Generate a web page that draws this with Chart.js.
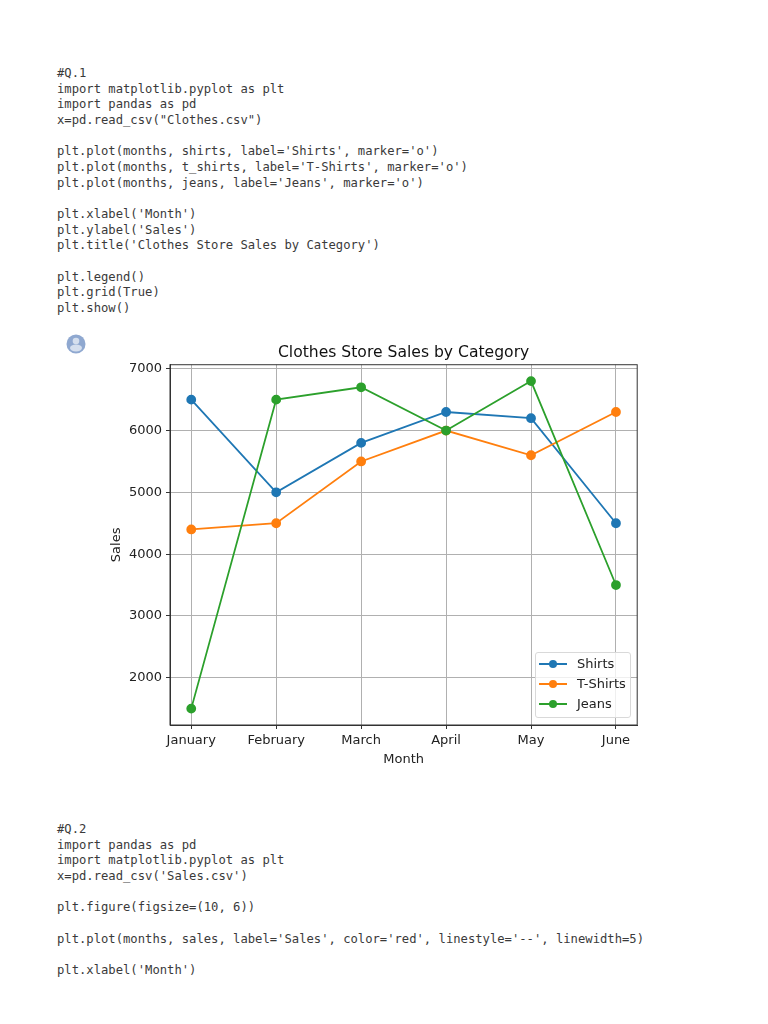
<!DOCTYPE html>
<html>
<head>
<meta charset="utf-8">
<script src="https://cdn.jsdelivr.net/npm/chart.js@4"></script>
<style>
  html, body { margin: 0; padding: 0; background: #fff; }
  body { position: relative; width: 768px; height: 1024px; overflow: hidden; }
  pre {
    position: absolute; left: 57px; margin: 0;
    font: 12.2px/15.65px "DejaVu Sans Mono", monospace;
    color: #3a3a3a;
  }
  #code1 { top: 66px; }
  #code2 { top: 822px; }
  #chartBox { position: absolute; left: 100px; top: 335px; width: 543px; height: 440px; }
  #avatar { position: absolute; left: 66px; top: 334px; }
  #legend {
    position: absolute; left: 535px; top: 652px; width: 94px; height: 64px;
    background: rgba(255,255,255,0.8); border: 1px solid #d9d9d9; border-radius: 3px;
    font: 13px "DejaVu Sans", sans-serif; color: #222;
  }
  .row { position: absolute; left: 0; height: 20px; width: 94px; }
  .row i { position: absolute; left: 3px; top: 9px; width: 28px; height: 2px; }
  .row b { position: absolute; left: 13px; top: 6px; width: 8px; height: 8px; border-radius: 50%; }
  .row span { position: absolute; left: 41px; top: 2px; }
</style>
</head>
<body>
<pre id="code1"></pre>
<svg id="avatar" width="20" height="20" viewBox="0 0 20 20">
  <circle cx="10" cy="10" r="9.5" fill="#8fa8d0"/>
  <circle cx="10" cy="7" r="3.3" fill="#d5dfee"/>
  <ellipse cx="10" cy="14" rx="6" ry="3.4" fill="#d5dfee"/>
</svg>
<div id="chartBox"><canvas id="myChart" width="543" height="440"></canvas></div>
<div id="legend"></div>
<pre id="code2"></pre>

<script>
const codeTop = [
  "#Q.1",
  "import matplotlib.pyplot as plt",
  "import pandas as pd",
  'x=pd.read_csv("Clothes.csv")',
  "",
  "plt.plot(months, shirts, label='Shirts', marker='o')",
  "plt.plot(months, t_shirts, label='T-Shirts', marker='o')",
  "plt.plot(months, jeans, label='Jeans', marker='o')",
  "",
  "plt.xlabel('Month')",
  "plt.ylabel('Sales')",
  "plt.title('Clothes Store Sales by Category')",
  "",
  "plt.legend()",
  "plt.grid(True)",
  "plt.show()"
];
const codeBottom = [
  "#Q.2",
  "import pandas as pd",
  "import matplotlib.pyplot as plt",
  "x=pd.read_csv('Sales.csv')",
  "",
  "plt.figure(figsize=(10, 6))",
  "",
  "plt.plot(months, sales, label='Sales', color='red', linestyle='--', linewidth=5)",
  "",
  "plt.xlabel('Month')"
];

const months = ["January", "February", "March", "April", "May", "June"];
const shirts = [6500, 5000, 5800, 6300, 6200, 4500];
const tShirts = [4400, 4500, 5500, 6000, 5600, 6300];
const jeans = [1500, 6500, 6700, 6000, 6800, 3500];
const yTicks = [2000, 3000, 4000, 5000, 6000, 7000];

const seriesNames = ["Shirts", "T-Shirts", "Jeans"];
const seriesColors = ["#1f77b4", "#ff7f0e", "#2ca02c"];
const seriesValues = [shirts, tShirts, jeans];

document.getElementById("code1").textContent = codeTop.join("\n");
document.getElementById("code2").textContent = codeBottom.join("\n");

// legend sits inside the axes like matplotlib's, so it is plain html on top of the canvas
const legendBox = document.getElementById("legend");
seriesNames.forEach((name, i) => {
  const row = document.createElement("div");
  row.className = "row";
  row.style.top = (1 + i * 20) + "px";
  row.innerHTML = '<i style="background:' + seriesColors[i] + '"></i><b style="background:' + seriesColors[i] + '"></b><span>' + name + "</span>";
  legendBox.appendChild(row);
});

// top and right spines
const frame = {
  id: "frame",
  afterDatasetsDraw(chart) {
    const a = chart.chartArea;
    const ctx = chart.ctx;
    ctx.save();
    ctx.strokeStyle = "#333";
    ctx.lineWidth = 1;
    ctx.strokeRect(a.left, a.top, a.right - a.left, a.bottom - a.top);
    ctx.restore();
  }
};

const font = { family: "'DejaVu Sans'", size: 13 };

new Chart("myChart", {
  type: "line",
  data: {
    datasets: seriesNames.map((name, i) => ({
      label: name,
      data: seriesValues[i].map((v, j) => ({ x: j, y: v })),
      borderColor: seriesColors[i],
      backgroundColor: seriesColors[i],
      borderWidth: 1.8,
      pointRadius: 4,
      pointHoverRadius: 4,
      tension: 0,
      order: 3 - i
    }))
  },
  plugins: [frame],
  options: {
    responsive: false,
    animation: false,
    layout: { padding: 0 },
    plugins: {
      legend: { display: false },
      tooltip: { enabled: false },
      title: {
        display: true,
        fullSize: false,
        text: "Clothes Store Sales by Category",
        color: "#111",
        font: { family: "'DejaVu Sans'", size: 15.6, weight: "normal", lineHeight: 1.2 },
        padding: { top: 8.5, bottom: 2.5 }
      }
    },
    scales: {
      x: {
        type: "linear",
        min: -0.25,
        max: 5.25,
        afterBuildTicks: s => { s.ticks = months.map((m, i) => ({ value: i })); },
        afterFit: s => { s.height = 50; },
        ticks: {
          color: "#222",
          font: font,
          padding: 4,
          maxRotation: 0,
          autoSkip: false,
          callback: v => months[v]
        },
        grid: { color: "#b0b0b0", lineWidth: 1, tickColor: "#333", tickLength: 4 },
        border: { color: "#333" },
        title: { display: true, text: "Month", color: "#222", font: font, padding: { top: 0, bottom: 8 } }
      },
      y: {
        min: 1235,
        max: 7065,
        afterBuildTicks: s => { s.ticks = yTicks.map(v => ({ value: v })); },
        afterFit: s => { s.width = 70; },
        ticks: {
          color: "#222",
          font: font,
          padding: 4,
          callback: v => String(v)
        },
        grid: { color: "#b0b0b0", lineWidth: 1, tickColor: "#333", tickLength: 4 },
        border: { color: "#333" },
        title: { display: true, text: "Sales", color: "#222", font: font, padding: { top: 9, bottom: 0 } }
      }
    }
  }
});
</script>
</body>
</html>
